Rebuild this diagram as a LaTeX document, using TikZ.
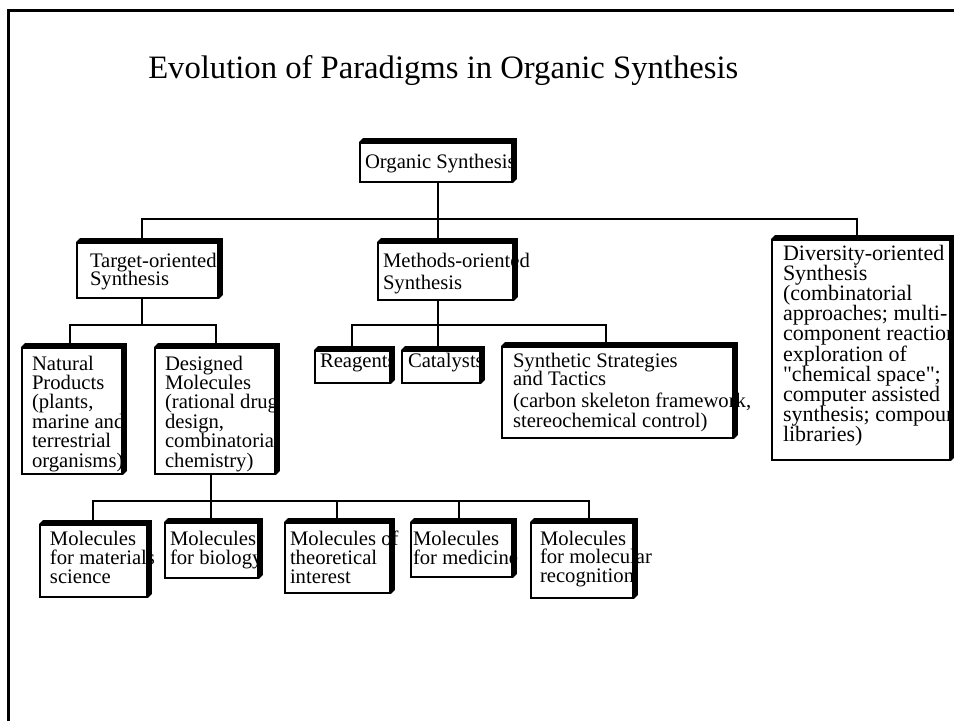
\documentclass[tikz,border=0pt]{standalone}
\usepackage{fontspec}
\setmainfont{Liberation Serif}[Ligatures=TeXOff]
\usetikzlibrary{calc,fit}

% fonts for box texts and the heading
\newcommand\boxfont{\fontsize{15.5}{14.4}\selectfont}
% stacked, left-aligned lines with a fixed baseline distance
\newcommand\stack[1]{\vtop{\lineskiplimit=-\maxdimen\lineskip=0pt\let\\\cr
  \halign{##\hfil\cr#1\crcr}}}

\tikzset{
  link/.style={line width=2pt, line join=miter},
  card/.style={draw, fill=white, line width=1.4pt, inner sep=0pt},
  cardtext/.style={anchor=base west, inner sep=0pt, outer sep=0pt},
  heading/.style={anchor=base west, inner sep=0pt,
    font=\fontsize{24.5}{28}\selectfont},
}

% \card[font]{name}{corner}{corner}{text base point}{lines}
\newcommand\card[6][\boxfont]{%
  \node[card, fit={#3 #4}] (#2) {};
  \node[cardtext, font=#1] (#2-t) at #5 {\stack{#6}};
  \fill ($(#2.north west)$) -- ++(4,-4) -- ($(#2.north east)+(4,-4)$)
    -- ($(#2.south east)+(4,-4)$) -- (#2.south east) -- (#2.north east) -- cycle;
}

\begin{document}
\begin{tikzpicture}[x=0.75pt, y=-0.75pt]
\useasboundingbox (0,0) rectangle (954,721);

% page frame
\draw[line width=2.3pt] (8.5,730) -- (8.5,10.5) -- (965,10.5);

\node[heading] (title) at (148,78) {Evolution of Paradigms in Organic Synthesis};

% level 1 and 2
\card{org}{(360,143)}{(512,182)}{(365,168)}{Organic Synthesis}
\card[\fontsize{15.5}{13.6}\selectfont]{tgt}{(77,243)}{(218,298)}{(90,267)}{Target-oriented\\Synthesis}
\card[\fontsize{15.5}{16.8}\selectfont]{mth}{(378,243)}{(513,300)}{(383,267)}{Methods-oriented\\Synthesis}
\card[\fontsize{16.5}{15.15}\selectfont]{div}{(772,240)}{(950,460)}{(783,260)}{%
  Diversity-oriented\\Synthesis\\(combinatorial\\approaches; multi-\\component reactions;\\%
  exploration of\\"chemical space";\\computer assisted\\synthesis; compound\\libraries)}

% level 3
\card[\fontsize{15.5}{14.55}\selectfont]{nat}{(22,348)}{(122,474)}{(32,370)}{%
  Natural\\Products\\(plants,\\marine and\\terrestrial\\organisms)}
\card[\fontsize{15.5}{14.55}\selectfont]{des}{(155,348)}{(275,474)}{(165,370)}{%
  Designed\\Molecules\\(rational drug\\design,\\combinatorial\\chemistry)}
\card{rea}{(315,351)}{(390,383)}{(320,367)}{Reagents}
\card{cat}{(402,351)}{(480,383)}{(408,367)}{Catalysts}
\card[\fontsize{15.5}{13.5}\selectfont]{syn}{(502,347)}{(733,438)}{(513,367)}{%
  Synthetic Strategies\\and Tactics\\\noalign{\kern3pt}(carbon skeleton framework,\\\noalign{\kern1.5pt}stereochemical control)}

% level 4
\card[\fontsize{15.5}{14.25}\selectfont]{mat}{(40,525)}{(147,597)}{(50,545)}{Molecules\\for materials\\science}
\card[\fontsize{15.5}{14.25}\selectfont]{bio}{(165,523)}{(258,578)}{(170,545)}{Molecules\\for biology}
\card[\fontsize{15.5}{14.25}\selectfont]{the}{(285,523)}{(390,593)}{(290,545)}{Molecules of\\theoretical\\interest}
\card[\fontsize{15.5}{14.25}\selectfont]{med}{(411,523)}{(512,577)}{(413,545)}{Molecules\\for medicine}
\card[\fontsize{15.5}{13.9}\selectfont]{rec}{(531,523)}{(633,598)}{(540,545)}{Molecules\\for molecular\\recognition}

% junction points of the tree
\coordinate (j0) at (438,219);
\coordinate (jT) at (142,219);
\coordinate (jD) at (857,219);
\coordinate (k0) at (142,325);
\coordinate (kN) at (70,325);
\coordinate (kD) at (216,325);
\coordinate (m0) at (438,325);
\coordinate (mR) at (352,325);
\coordinate (mS) at (606,325);
\coordinate (d0) at (211,501);
\coordinate (pM) at (93,501);
\coordinate (pT) at (337,501);
\coordinate (pD) at (459,501);
\coordinate (pR) at (589,501);

% connectors
\draw[link] (j0 |- org.south) -- (j0) -- (j0 |- mth.north);
\draw[link] (jT |- tgt.north) -- (jT) -- (jD) -- (jD |- div.north);

\draw[link] (k0 |- tgt.south) -- (k0);
\draw[link] (kN |- nat.north) -- (kN) -- (kD) -- (kD |- des.north);

\draw[link] (m0 |- mth.south) -- (m0) -- (m0 |- cat.north);
\draw[link] (mR |- rea.north) -- (mR) -- (mS) -- (mS |- syn.north);

\draw[link] (d0 |- des.south) -- (d0) -- (d0 |- bio.north);
\draw[link] (pM |- mat.north) -- (pM) -- (pR) -- (pR |- rec.north);
\draw[link] (pT) -- (pT |- the.north);
\draw[link] (pD) -- (pD |- med.north);
\end{tikzpicture}
\end{document}
